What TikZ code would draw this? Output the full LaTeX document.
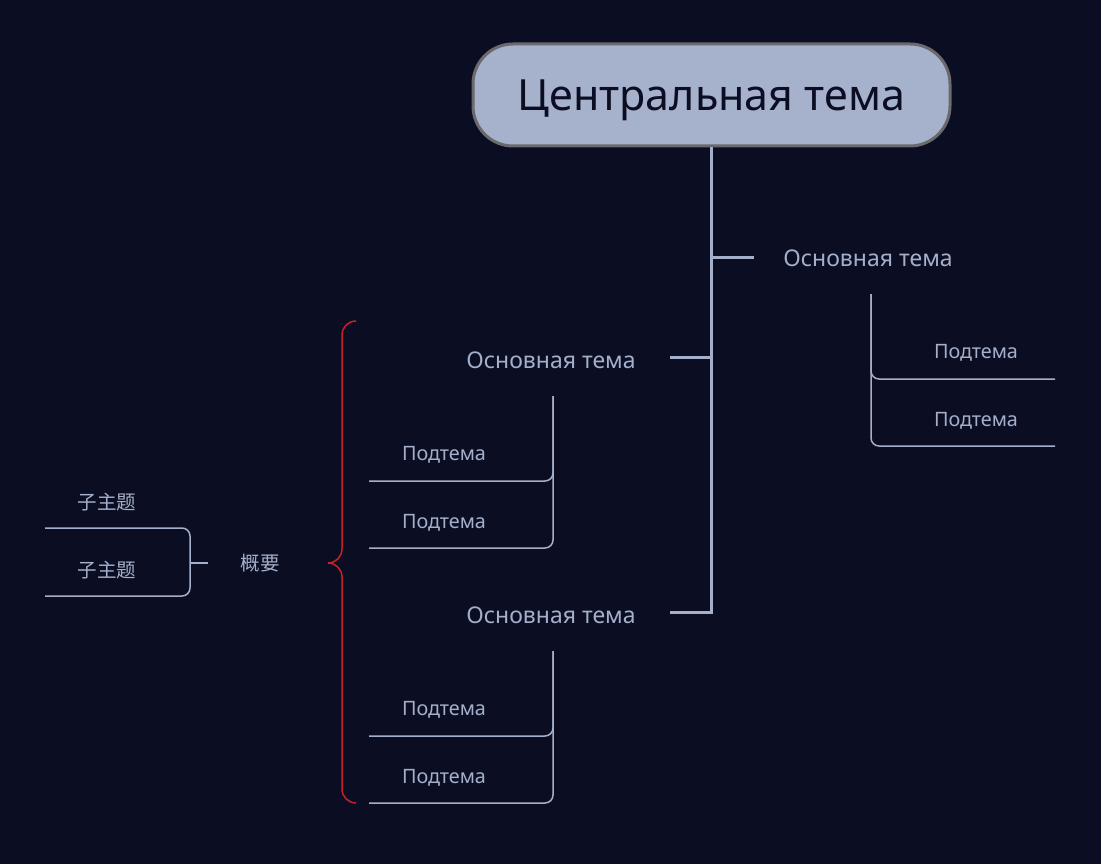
\documentclass[tikz,border=0pt]{standalone}
\usepackage{fontspec}
\setmainfont{Noto Sans}
\newfontfamily\cjk{Noto Sans CJK SC}
\definecolor{bgc}{HTML}{0B0E22}
\definecolor{fgc}{HTML}{A4AFCB}
\definecolor{ctrfill}{HTML}{A6B1CC}
\definecolor{ctrline}{HTML}{6A6A6E}
\definecolor{bracec}{HTML}{C42228}
\begin{document}
\begin{tikzpicture}[x=1pt,y=-1pt,
  central/.style={draw=ctrline,line width=3pt,fill=ctrfill,rounded corners=40pt,
    minimum width=477pt,minimum height=102pt,inner sep=0pt,text=bgc,text depth=0pt,
    font=\fontsize{43}{50}\selectfont},
  maintopic/.style={text=fgc,inner sep=0pt,font=\fontsize{23}{28}\selectfont},
  subtopic/.style={text=fgc,inner sep=0pt,font=\fontsize{19.8}{23}\selectfont},
  cjktopic/.style={text=fgc,inner sep=0pt,font=\cjk\fontsize{19.5}{23}\selectfont},
  trunk/.style={draw=fgc,line width=3pt},
  twig/.style={draw=fgc,line width=1.5pt,rounded corners=8pt},
  bracket/.style={draw=bracec,line width=1.5pt}]
  \fill[bgc] (0,0) rectangle (1101,864);
  \useasboundingbox (0,0) rectangle (1101,864);
  % central topic and main branches
  \node[central] (ctr) at (711.5,95) {Центральная тема};
  \node[maintopic] (main1) at (868,258) {Основная тема};
  \node[maintopic] (main2) at (551,360) {Основная тема};
  \node[maintopic] (main3) at (551,615) {Основная тема};
  \coordinate (b1) at (754,257);
  \coordinate (b2) at (670,357);
  \coordinate (b3) at (670,612);
  \draw[trunk] (ctr.south) |- (b3);
  \draw[trunk] (b1) -- (ctr.south |- b1);
  \draw[trunk] (b2) -- (ctr.south |- b2);
  % subtopics right
  \node[subtopic] (sub11) at (976,353) {Подтема};
  \node[subtopic] (sub12) at (976,421) {Подтема};
  \coordinate (r1) at (871,294);
  \draw[twig] (r1) |- (1055,379);
  \draw[twig] (r1) |- (1055,446);
  % subtopics left, upper
  \node[subtopic] (sub21) at (444,455) {Подтема};
  \node[subtopic] (sub22) at (444,523) {Подтема};
  \coordinate (l1) at (553,396);
  \draw[twig] (l1) |- (369,481);
  \draw[twig] (l1) |- (369,548);
  % subtopics left, lower
  \node[subtopic] (sub31) at (444,710) {Подтема};
  \node[subtopic] (sub32) at (444,778) {Подтема};
  \coordinate (l2) at (553,651);
  \draw[twig] (l2) |- (369,736);
  \draw[twig] (l2) |- (369,803);
  % summary
  \draw[bracket] (356,321) to[out=180,in=90] (342,335) -- (342,549)
    to[out=-90,in=0] (328,563) to[out=0,in=90] (342,577) -- (342,789)
    to[out=-90,in=180] (356,803);
  \node[cjktopic] (summ) at (260,563) {概要};
  \node[cjktopic] (cjk1) at (107,502) {子主题};
  \node[cjktopic] (cjk2) at (107,570) {子主题};
  \coordinate (s1) at (208,563);
  \draw[twig] (45,528) -| (190,563) |- (45,596);
  \draw[twig] (s1) -- (190,563);
\end{tikzpicture}
\end{document}
